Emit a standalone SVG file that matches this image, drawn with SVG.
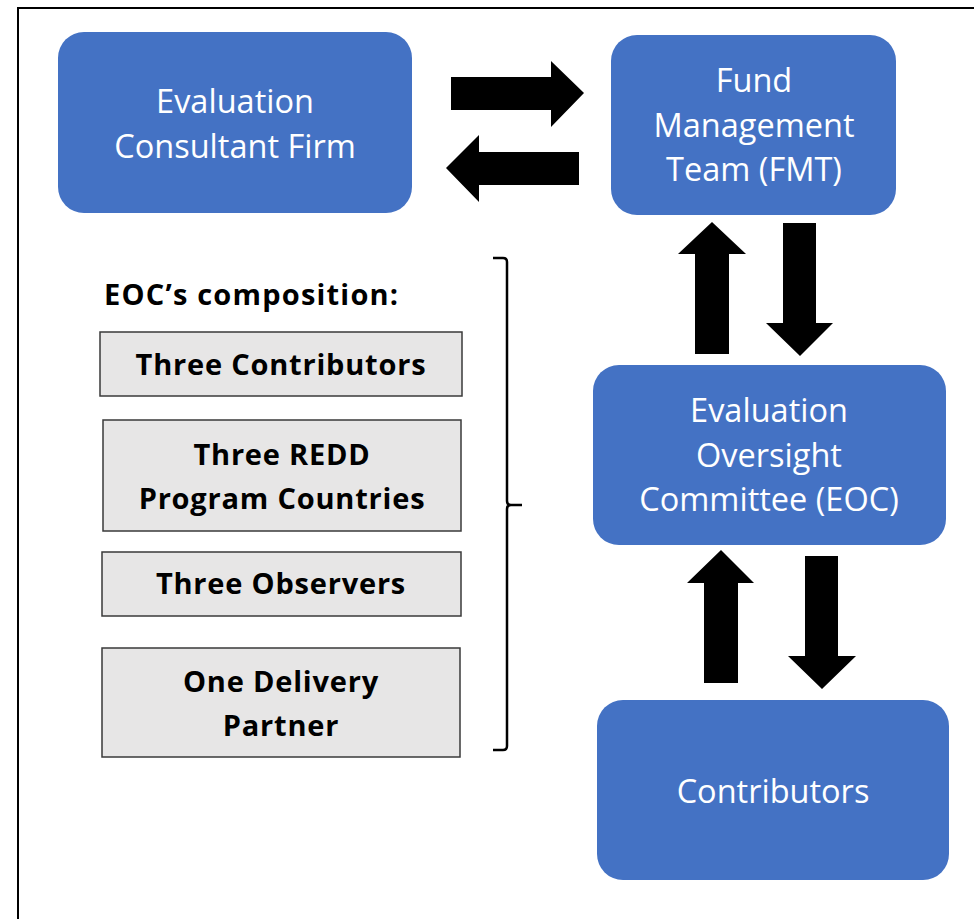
<svg xmlns="http://www.w3.org/2000/svg" width="974" height="919" viewBox="0 0 974 919">
<style>
.blue{fill:#4472C4;}
.bt{fill:#ffffff;font-family:"Open Sans","Liberation Sans",sans-serif;font-size:32.5px;text-anchor:middle;}
.gray{fill:#E7E6E6;stroke:#3a3a3a;stroke-width:1.5;}
.gt{fill:#000;font-family:"Open Sans","Liberation Sans",sans-serif;font-weight:bold;font-size:29px;letter-spacing:0.8px;text-anchor:middle;}
.arr{fill:#000;}
</style>
<rect x="0" y="0" width="974" height="919" fill="#fff"/>
<rect x="18" y="8" width="1000" height="1000" fill="none" stroke="#000" stroke-width="2"/>
<g id="consultant">
<rect class="blue" x="58" y="32" width="354" height="181" rx="26"/>
<text class="bt" x="235" y="113">Evaluation</text>
<text class="bt" x="235" y="158">Consultant Firm</text>
</g>
<g id="fmt">
<rect class="blue" x="611" y="35" width="285" height="180" rx="26"/>
<text class="bt" x="754" y="92">Fund</text>
<text class="bt" x="754" y="137">Management</text>
<text class="bt" x="754" y="181">Team (FMT)</text>
</g>
<g id="eoc">
<rect class="blue" x="593" y="365" width="353" height="180" rx="26"/>
<text class="bt" x="769" y="422">Evaluation</text>
<text class="bt" x="769" y="467">Oversight</text>
<text class="bt" x="769" y="511">Committee (EOC)</text>
</g>
<g id="contributors">
<rect class="blue" x="597" y="700" width="352" height="180" rx="26"/>
<text class="bt" x="773" y="803">Contributors</text>
</g>
<g id="composition">
<text x="104" y="305" font-family="Open Sans,Liberation Sans,sans-serif" font-weight="bold" font-size="29" letter-spacing="1.2">EOC’s composition:</text>
<g id="m1"><rect class="gray" x="100" y="332" width="362" height="64"/><text class="gt" x="281" y="375">Three Contributors</text></g>
<g id="m2"><rect class="gray" x="103" y="420" width="358" height="111"/><text class="gt" x="282" y="465">Three REDD</text><text class="gt" x="282" y="509">Program Countries</text></g>
<g id="m3"><rect class="gray" x="102" y="552" width="359" height="64"/><text class="gt" x="281" y="594">Three Observers</text></g>
<g id="m4"><rect class="gray" x="102" y="648" width="358" height="109"/><text class="gt" x="281" y="692">One Delivery</text><text class="gt" x="281" y="736">Partner</text></g>
<path d="M493 258 H503 Q507 258 507 262 V501 Q507 505 511 505 H522 M511 505 Q507 505 507 509 V746 Q507 750 503 750 H493" fill="none" stroke="#000" stroke-width="2.5"/>
</g>
<g id="connectors">
<polygon class="arr" points="451,77 551,77 551,61 584,93 551,127 551,110 451,110"/>
<polygon class="arr" points="579,152 479,152 479,135 446,168 479,202 479,185 579,185"/>
<polygon class="arr" points="695,354 695,254 678,254 712,222 746,254 729,254 729,354"/>
<polygon class="arr" points="783,223 816,223 816,323 833,323 800,356 766,323 783,323"/>
<polygon class="arr" points="704,683 704,583 687,583 721,550 754,583 738,583 738,683"/>
<polygon class="arr" points="805,556 838,556 838,656 856,656 822,689 788,656 805,656"/>
</g>
</svg>
